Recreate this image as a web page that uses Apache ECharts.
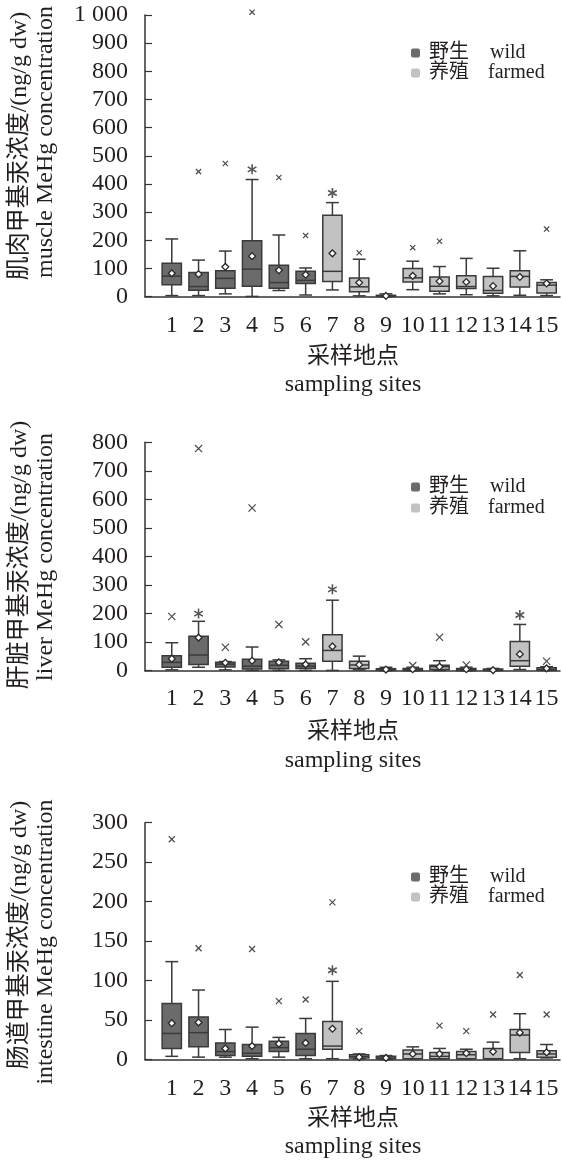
<!DOCTYPE html>
<html>
<head>
<meta charset="utf-8">
<script src="https://cdn.jsdelivr.net/npm/echarts@6/dist/echarts.min.js"></script>
<style>
  html, body { margin: 0; padding: 0; background: #fff; }
  #chart { width: 563px; height: 1165px; }
</style>
</head>
<body>
<div id="chart"></div>
<script>
// 采样地点 1-15，1-6 野生，7-15 养殖
const sites = [1, 2, 3, 4, 5, 6, 7, 8, 9, 10, 11, 12, 13, 14, 15]
const siteGroup = ['wild', 'wild', 'wild', 'wild', 'wild', 'wild',
  'farmed', 'farmed', 'farmed', 'farmed', 'farmed', 'farmed', 'farmed', 'farmed', 'farmed']

// 肌肉 muscle
const muscleLow = [4, 4, 10, 1, 22, 6, 24, 3, 0, 25, 10, 7, 3, 5, 4]
const muscleQ1 = [42, 23, 30, 37, 30, 47, 54, 18, 2, 52, 19, 29, 12, 34, 13]
const muscleMedian = [73, 36, 65, 98, 50, 58, 90, 35, 3, 67, 37, 36, 22, 72, 41]
const muscleQ3 = [119, 86, 92, 199, 112, 90, 289, 66, 5, 100, 70, 74, 72, 92, 50]
const muscleHigh = [205, 130, 162, 416, 219, 102, 334, 133, 10, 126, 107, 136, 101, 163, 60]
const muscleMean = [83, 80, 106, 144, 94, 78, 154, 50, 3, 74, 55, 52, 38, 70, 47]
const muscleMax = [null, 444, 473, 1010, 423, 217, null, 156, null, 174, 197, null, null, null, 240]
const muscleOutlier = [null, null, null, 452, null, null, 368, null, null, null, null, null, null, null, null]

// 肝脏 liver
const liverLow = [3, 12, 3, 1, 1, 1, 1, 3, 0, 0, 1, 0, 0, 4, 1]
const liverQ1 = [12, 22, 13, 6, 7, 8, 33, 8, 2, 1, 4, 1, 1, 16, 2]
const liverMedian = [29, 55, 23, 16, 19, 16, 71, 20, 4, 4, 14, 4, 3, 35, 5]
const liverQ3 = [52, 121, 30, 40, 33, 26, 126, 33, 7, 8, 19, 8, 6, 102, 10]
const liverHigh = [98, 173, 32, 83, 38, 42, 247, 51, 12, 12, 35, 12, 8, 162, 14]
const liverMean = [42, 116, 28, 35, 29, 22, 85, 21, 4, 5, 14, 5, 2, 58, 8]
const liverMax = [190, 778, 82, 570, 162, 101, null, null, null, 18, 117, 20, null, null, 33]
const liverOutlier = [null, 200, null, null, null, null, 285, null, null, null, null, null, null, 195, null]

// 肠道 intestine
const gutLow = [4, 3, 3, 1, 3, 1, 1, 1, 0, 1, 1, 1, 1, 1, 2]
const gutQ1 = [14, 16, 5, 4, 10, 5, 13, 2, 1, 1, 1, 1, 1, 9, 3]
const gutMedian = [33, 34, 10, 8, 15, 13, 17, 4, 2, 7, 4, 6, 1, 31, 7]
const gutQ3 = [71, 54, 21, 19, 23, 33, 48, 6, 4, 12, 9, 10, 14, 38, 11]
const gutHigh = [124, 88, 38, 41, 28, 52, 99, 7, 5, 16, 14, 13, 22, 58, 19]
const gutMean = [46, 47, 14, 17, 20, 21, 39, 3, 2, 7, 7, 8, 10, 34, 9]
const gutMax = [279, 141, null, 140, 74, 76, 199, 36, null, null, 43, 36, 57, 107, 57]
const gutOutlier = [null, null, null, null, null, null, 113, null, null, null, null, null, null, null, null]

const serif = "'Liberation Serif', 'Noto Sans CJK SC', serif"
const ink = '#231f20'
const edge = '#3a3a3a'
const wildFill = '#6b6b6b'
const farmedFill = '#c2c2c2'

const chart = echarts.init(document.getElementById('chart'))

// 各面板布局
const panels = [
  { top: 15, height: 281.7, max: 1000, interval: 100, crossR: 2.6, labelMargin: 17,
    cn: '肌肉甲基汞浓度/(ng/g dw)', en: 'muscle MeHg concentration', nameY: [146, 142],
    titleY: [357, 385], legendY: [53, 73],
    data: [muscleLow, muscleQ1, muscleMedian, muscleQ3, muscleHigh, muscleMean, muscleMax, muscleOutlier] },
  { top: 442.3, height: 228.4, max: 800, interval: 100, crossR: 3.6, labelMargin: 16,
    cn: '肝脏甲基汞浓度/(ng/g dw)', en: 'liver MeHg concentration', nameY: [555, 557],
    titleY: [732, 761], legendY: [487, 508],
    data: [liverLow, liverQ1, liverMedian, liverQ3, liverHigh, liverMean, liverMax, liverOutlier] },
  { top: 822.7, height: 236.8, max: 300, interval: 50, crossR: 3, labelMargin: 17,
    cn: '肠道甲基汞浓度/(ng/g dw)', en: 'intestine MeHg concentration', nameY: [935, 942],
    titleY: [1119, 1147], legendY: [877, 897],
    data: [gutLow, gutQ1, gutMedian, gutQ3, gutHigh, gutMean, gutMax, gutOutlier] }
]

// 箱线图绘制
const renderBox = (params, api) => {
  const s = api.value(0)
  const pLow = api.coord([s, api.value(1)])
  const pQ1 = api.coord([s, api.value(2)])
  const pMed = api.coord([s, api.value(3)])
  const pQ3 = api.coord([s, api.value(4)])
  const pHigh = api.coord([s, api.value(5)])
  const pMean = api.coord([s, api.value(6)])
  const farmed = api.value(7) === 1
  const unit = api.size([1, 0])[0]
  const half = unit * 0.36
  const cap = unit * 0.24
  const x = pQ1[0]
  const line = { stroke: edge, lineWidth: 1.5 }
  const d = 3.4
  return {
    type: 'group',
    children: [
      { type: 'line', shape: { x1: x, y1: pHigh[1], x2: x, y2: pQ3[1] }, style: line },
      { type: 'line', shape: { x1: x, y1: pQ1[1], x2: x, y2: pLow[1] }, style: line },
      { type: 'line', shape: { x1: x - cap, y1: pHigh[1], x2: x + cap, y2: pHigh[1] }, style: line },
      { type: 'line', shape: { x1: x - cap, y1: pLow[1], x2: x + cap, y2: pLow[1] }, style: line },
      {
        type: 'rect',
        shape: { x: x - half, y: pQ3[1], width: half * 2, height: Math.max(pQ1[1] - pQ3[1], 1) },
        style: { fill: farmed ? farmedFill : wildFill, stroke: edge, lineWidth: 1.5 }
      },
      { type: 'line', shape: { x1: x - half, y1: pMed[1], x2: x + half, y2: pMed[1] }, style: line },
      {
        type: 'polygon',
        shape: { points: [[x, pMean[1] - d], [x + d, pMean[1]], [x, pMean[1] + d], [x - d, pMean[1]]] },
        style: { fill: '#fff', stroke: '#2a2a2a', lineWidth: 1.3 }
      }
    ]
  }
}

// × 最大值, * 异常值
const makeMarkerRenderer = (r) => (params, api) => {
  const p = api.coord([api.value(0), api.value(1)])
  const kind = api.value(2)
  const style = { stroke: '#4a4a4a', lineWidth: 1.2 }
  if (kind === 0) {
    return {
      type: 'group',
      children: [
        { type: 'line', shape: { x1: p[0] - r, y1: p[1] - r, x2: p[0] + r, y2: p[1] + r }, style },
        { type: 'line', shape: { x1: p[0] - r, y1: p[1] + r, x2: p[0] + r, y2: p[1] - r }, style }
      ]
    }
  }
  const s = 5
  const children = [0, 60, 120].map((deg) => {
    const a = (deg * Math.PI) / 180
    const dx = Math.sin(a) * s
    const dy = Math.cos(a) * s
    return { type: 'line', shape: { x1: p[0] - dx, y1: p[1] - dy, x2: p[0] + dx, y2: p[1] + dy }, style: { stroke: '#555', lineWidth: 1.6 } }
  })
  return { type: 'group', children }
}

const grid = []
const xAxis = []
const yAxis = []
const series = []
const graphic = []

panels.forEach((p, k) => {
  grid.push({ left: 145, top: p.top, width: 417, height: p.height })
  xAxis.push({
    type: 'value', gridIndex: k, min: 0, max: 15.5, interval: 1,
    axisLine: { show: true, lineStyle: { color: '#333', width: 1.5 } },
    axisTick: { show: false },
    splitLine: { show: false },
    axisLabel: {
      margin: p.labelMargin, color: ink, fontFamily: serif, fontSize: 24,
      formatter: (v) => (Number.isInteger(v) && v >= 1 && v <= 15 ? String(v) : '')
    }
  })
  yAxis.push({
    type: 'value', gridIndex: k, min: 0, max: p.max, interval: p.interval,
    axisLine: { show: true, lineStyle: { color: '#333', width: 1.5 } },
    axisTick: { show: true, inside: true, length: 7, lineStyle: { color: '#333', width: 1.2 } },
    splitLine: { show: false },
    axisLabel: {
      margin: 17, color: ink, fontFamily: serif, fontSize: 24,
      formatter: (v) => (v >= 1000 ? '1 000' : String(v))
    }
  })

  const [low, q1, med, q3, high, mean, maxv, outl] = p.data
  series.push({
    type: 'custom', xAxisIndex: k, yAxisIndex: k,
    renderItem: renderBox,
    encode: { x: 0, y: [1, 2, 3, 4, 5] },
    data: sites.map((s, i) => [s, low[i], q1[i], med[i], q3[i], high[i], mean[i], siteGroup[i] === 'farmed' ? 1 : 0]),
    z: 2
  })
  const marks = []
  sites.forEach((s, i) => {
    if (maxv[i] != null) marks.push([s, maxv[i], 0])
    if (outl[i] != null) marks.push([s, outl[i], 1])
  })
  series.push({
    type: 'custom', xAxisIndex: k, yAxisIndex: k,
    renderItem: makeMarkerRenderer(p.crossR),
    encode: { x: 0, y: 1 },
    data: marks,
    z: 3
  })

  // 纵轴标题（两行）
  graphic.push({
    type: 'text', x: 20, y: p.nameY[0], rotation: Math.PI / 2,
    style: { text: p.cn, font: '24px ' + serif, fill: ink, textAlign: 'center', textVerticalAlign: 'middle', align: 'center', verticalAlign: 'middle' }
  })
  graphic.push({
    type: 'text', x: 46, y: p.nameY[1], rotation: Math.PI / 2,
    style: { text: p.en, font: '24px ' + serif, fill: ink, textAlign: 'center', textVerticalAlign: 'middle', align: 'center', verticalAlign: 'middle' }
  })
  // 横轴标题
  graphic.push({
    type: 'text', x: 353, y: p.titleY[0],
    style: { text: '采样地点', font: '23px ' + serif, fill: ink, textAlign: 'center', textVerticalAlign: 'middle', align: 'center', verticalAlign: 'middle' }
  })
  graphic.push({
    type: 'text', x: 353, y: p.titleY[1],
    style: { text: 'sampling sites', font: '24px ' + serif, fill: ink, textAlign: 'center', textVerticalAlign: 'middle', align: 'center', verticalAlign: 'middle' }
  })
  // 图例
  const legendRows = [
    { cn: '野生', en: 'wild', color: wildFill },
    { cn: '养殖', en: 'farmed', color: farmedFill }
  ]
  legendRows.forEach((row, j) => {
    const y = p.legendY[j]
    graphic.push({ type: 'rect', shape: { x: 411, y: y - 4.5, width: 9, height: 9, r: 2 }, style: { fill: row.color } })
    graphic.push({
      type: 'text', x: 429, y: y,
      style: { text: row.cn, font: '20px ' + serif, fill: ink, textAlign: 'left', textVerticalAlign: 'middle', align: 'left', verticalAlign: 'middle' }
    })
    graphic.push({
      type: 'text', x: j === 0 ? 490 : 488, y: y,
      style: { text: row.en, font: '20px ' + serif, fill: ink, textAlign: 'left', textVerticalAlign: 'middle', align: 'left', verticalAlign: 'middle' }
    })
  })
})

chart.setOption({
  animation: false,
  backgroundColor: '#fff',
  grid,
  xAxis,
  yAxis,
  series,
  graphic
})
</script>
</body>
</html>
